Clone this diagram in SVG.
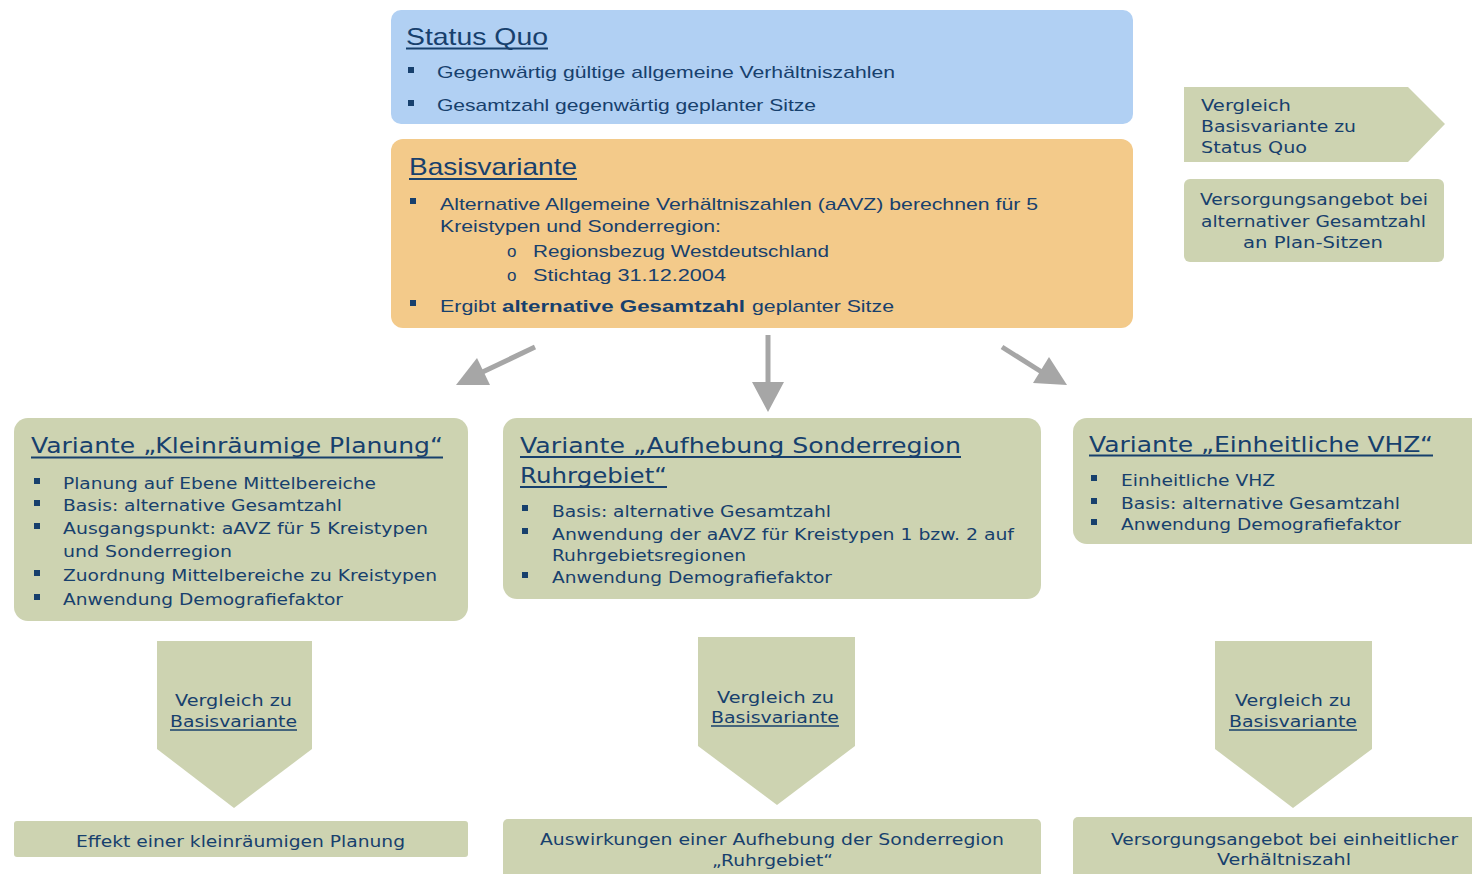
<svg xmlns="http://www.w3.org/2000/svg" width="1472" height="874" viewBox="0 0 1472 874">
<style>
text{font-family:"Liberation Sans",Arial,sans-serif;fill:#17406d;}
.t{font-size:24px;}
.b{font-size:17px;}
.bb{font-size:17px;font-weight:bold;}
.gt{font-family:"DejaVu Sans",Verdana,sans-serif;font-size:22px;}
.g{font-family:"DejaVu Sans",Verdana,sans-serif;font-size:16px;}
.blue{fill:#b1d0f3;}
.orange{fill:#f3ca8a;}
.green{fill:#cdd3b1;}
.ul{stroke:#17406d;stroke-width:2;}
.ul2{stroke:#17406d;stroke-width:1.5;}
.sq{fill:#17406d;}
.arr{fill:#a6a6a6;}
.shaft{stroke:#a6a6a6;stroke-width:5;}
</style>
<rect width="1472" height="874" fill="#ffffff"/>

<g id="status-quo">
<rect class="blue" x="391" y="10" width="742" height="114" rx="10"/>
<text class="t" x="406" y="45" textLength="142" lengthAdjust="spacingAndGlyphs">Status Quo</text>
<line class="ul" x1="406" y1="48.5" x2="548" y2="48.5"/>
<rect class="sq" x="408" y="67" width="6" height="6"/>
<text class="b" x="437" y="78" textLength="458" lengthAdjust="spacingAndGlyphs">Gegenwärtig gültige allgemeine Verhältniszahlen</text>
<rect class="sq" x="408" y="100" width="6" height="6"/>
<text class="b" x="437" y="111" textLength="379" lengthAdjust="spacingAndGlyphs">Gesamtzahl gegenwärtig geplanter Sitze</text>
</g>

<g id="basisvariante">
<rect class="orange" x="391" y="139" width="742" height="189" rx="12"/>
<text class="t" x="409" y="175" textLength="168" lengthAdjust="spacingAndGlyphs">Basisvariante</text>
<line class="ul" x1="409" y1="179" x2="577" y2="179"/>
<rect class="sq" x="410" y="198" width="6" height="6"/>
<text class="b" x="440" y="210" textLength="598" lengthAdjust="spacingAndGlyphs">Alternative Allgemeine Verhältniszahlen (aAVZ) berechnen für 5</text>
<text class="b" x="440" y="232" textLength="281" lengthAdjust="spacingAndGlyphs">Kreistypen und Sonderregion:</text>
<text class="b" x="507" y="257">o</text>
<text class="b" x="533" y="256.5" textLength="296" lengthAdjust="spacingAndGlyphs">Regionsbezug Westdeutschland</text>
<text class="b" x="507" y="281">o</text>
<text class="b" x="533" y="280.5" textLength="193" lengthAdjust="spacingAndGlyphs">Stichtag 31.12.2004</text>
<rect class="sq" x="410" y="300" width="6" height="6"/>
<text class="b" x="440" y="312" textLength="56" lengthAdjust="spacingAndGlyphs">Ergibt</text>
<text class="bb" x="502" y="312" textLength="243" lengthAdjust="spacingAndGlyphs">alternative Gesamtzahl</text>
<text class="b" x="752" y="312" textLength="142" lengthAdjust="spacingAndGlyphs">geplanter Sitze</text>
</g>

<g id="vergleich-status-quo">
<polygon class="green" points="1184,87 1408,87 1445,124 1408,162 1184,162"/>
<text class="g" x="1201" y="111" textLength="90" lengthAdjust="spacingAndGlyphs">Vergleich</text>
<text class="g" x="1201" y="132" textLength="155" lengthAdjust="spacingAndGlyphs">Basisvariante zu</text>
<text class="g" x="1201" y="153" textLength="106" lengthAdjust="spacingAndGlyphs">Status Quo</text>
</g>

<g id="versorgungsangebot-alternativ">
<rect class="green" x="1184" y="179" width="260" height="83" rx="6"/>
<text class="g" x="1200" y="205" textLength="228" lengthAdjust="spacingAndGlyphs">Versorgungsangebot bei</text>
<text class="g" x="1201" y="227" textLength="225" lengthAdjust="spacingAndGlyphs">alternativer Gesamtzahl</text>
<text class="g" x="1243" y="248" textLength="140" lengthAdjust="spacingAndGlyphs">an Plan-Sitzen</text>
</g>

<g id="connectors">
<line class="shaft" x1="535" y1="347" x2="472" y2="377"/>
<polygon class="arr" points="456,385 477,358 490,385"/>
<line class="shaft" x1="768" y1="335" x2="768" y2="384"/>
<polygon class="arr" points="752,382 784,382 768,412"/>
<line class="shaft" x1="1002" y1="347" x2="1048" y2="376"/>
<polygon class="arr" points="1049,357 1067,385 1033,383"/>
</g>

<g id="variante-kleinraeumig">
<rect class="green" x="14" y="418" width="454" height="203" rx="14"/>
<text class="gt" x="31" y="453" textLength="412" lengthAdjust="spacingAndGlyphs">Variante „Kleinräumige  Planung“</text>
<line class="ul" x1="31" y1="457.5" x2="443" y2="457.5"/>
<rect class="sq" x="34" y="478" width="6" height="6"/>
<text class="g" x="63" y="489" textLength="313" lengthAdjust="spacingAndGlyphs">Planung auf Ebene Mittelbereiche</text>
<rect class="sq" x="34" y="500" width="6" height="6"/>
<text class="g" x="63" y="511" textLength="279" lengthAdjust="spacingAndGlyphs">Basis: alternative Gesamtzahl</text>
<rect class="sq" x="34" y="523" width="6" height="6"/>
<text class="g" x="63" y="534" textLength="365" lengthAdjust="spacingAndGlyphs">Ausgangspunkt: aAVZ für 5 Kreistypen</text>
<text class="g" x="63" y="557" textLength="169" lengthAdjust="spacingAndGlyphs">und Sonderregion</text>
<rect class="sq" x="34" y="570" width="6" height="6"/>
<text class="g" x="63" y="581" textLength="374" lengthAdjust="spacingAndGlyphs">Zuordnung Mittelbereiche zu Kreistypen</text>
<rect class="sq" x="34" y="594" width="6" height="6"/>
<text class="g" x="63" y="605" textLength="280" lengthAdjust="spacingAndGlyphs">Anwendung Demografiefaktor</text>
</g>

<g id="variante-ruhrgebiet">
<rect class="green" x="503" y="418" width="538" height="181" rx="14"/>
<text class="gt" x="520" y="453" textLength="441" lengthAdjust="spacingAndGlyphs">Variante „Aufhebung Sonderregion</text>
<line class="ul" x1="520" y1="457" x2="961" y2="457"/>
<text class="gt" x="520" y="483" textLength="147" lengthAdjust="spacingAndGlyphs">Ruhrgebiet“</text>
<line class="ul" x1="520" y1="487" x2="667" y2="487"/>
<rect class="sq" x="522" y="505" width="6" height="6"/>
<text class="g" x="552" y="516.5" textLength="279" lengthAdjust="spacingAndGlyphs">Basis: alternative Gesamtzahl</text>
<rect class="sq" x="522" y="528" width="6" height="6"/>
<text class="g" x="552" y="539.5" textLength="462" lengthAdjust="spacingAndGlyphs">Anwendung der aAVZ für Kreistypen 1 bzw. 2 auf</text>
<text class="g" x="552" y="561" textLength="194" lengthAdjust="spacingAndGlyphs">Ruhrgebietsregionen</text>
<rect class="sq" x="522" y="572" width="6" height="6"/>
<text class="g" x="552" y="583" textLength="280" lengthAdjust="spacingAndGlyphs">Anwendung Demografiefaktor</text>
</g>

<g id="variante-einheitlich">
<rect class="green" x="1073" y="418" width="420" height="126" rx="14"/>
<text class="gt" x="1089" y="451.5" textLength="344" lengthAdjust="spacingAndGlyphs">Variante „Einheitliche  VHZ“</text>
<line class="ul" x1="1089" y1="455.5" x2="1433" y2="455.5"/>
<rect class="sq" x="1091" y="475" width="6" height="6"/>
<text class="g" x="1121" y="486" textLength="154" lengthAdjust="spacingAndGlyphs">Einheitliche VHZ</text>
<rect class="sq" x="1091" y="498" width="6" height="6"/>
<text class="g" x="1121" y="509" textLength="279" lengthAdjust="spacingAndGlyphs">Basis: alternative Gesamtzahl</text>
<rect class="sq" x="1091" y="519" width="6" height="6"/>
<text class="g" x="1121" y="530" textLength="280" lengthAdjust="spacingAndGlyphs">Anwendung Demografiefaktor</text>
</g>

<g id="vergleich-links">
<polygon class="green" points="157,641 312,641 312,749 234,808 157,749"/>
<text class="g" x="175" y="706" textLength="117" lengthAdjust="spacingAndGlyphs">Vergleich zu</text>
<text class="g" x="170" y="726.5" textLength="127" lengthAdjust="spacingAndGlyphs">Basisvariante</text>
<line class="ul2" x1="170" y1="730" x2="297" y2="730"/>
</g>

<g id="vergleich-mitte">
<polygon class="green" points="698,637 855,637 855,746 777,805 698,746"/>
<text class="g" x="717" y="702.5" textLength="117" lengthAdjust="spacingAndGlyphs">Vergleich zu</text>
<text class="g" x="711" y="722.5" textLength="128" lengthAdjust="spacingAndGlyphs">Basisvariante</text>
<line class="ul2" x1="711" y1="726" x2="839" y2="726"/>
</g>

<g id="vergleich-rechts">
<polygon class="green" points="1215,641 1372,641 1372,749 1293,808 1215,749"/>
<text class="g" x="1235" y="706" textLength="116" lengthAdjust="spacingAndGlyphs">Vergleich zu</text>
<text class="g" x="1229" y="726.5" textLength="128" lengthAdjust="spacingAndGlyphs">Basisvariante</text>
<line class="ul2" x1="1229" y1="730" x2="1357" y2="730"/>
</g>

<g id="effekt-kleinraeumig">
<rect class="green" x="14" y="821" width="454" height="36" rx="3"/>
<text class="g" x="76" y="847" textLength="329" lengthAdjust="spacingAndGlyphs">Effekt einer kleinräumigen Planung</text>
</g>

<g id="auswirkungen-ruhrgebiet">
<rect class="green" x="503" y="819" width="538" height="70" rx="5"/>
<text class="g" x="540" y="845" textLength="464" lengthAdjust="spacingAndGlyphs">Auswirkungen einer Aufhebung der Sonderregion</text>
<text class="g" x="712" y="866" textLength="121" lengthAdjust="spacingAndGlyphs">„Ruhrgebiet“</text>
</g>

<g id="versorgungsangebot-einheitlich">
<rect class="green" x="1073" y="817" width="420" height="70" rx="5"/>
<text class="g" x="1111" y="845" textLength="347" lengthAdjust="spacingAndGlyphs">Versorgungsangebot bei einheitlicher</text>
<text class="g" x="1217" y="865" textLength="134" lengthAdjust="spacingAndGlyphs">Verhältniszahl</text>
</g>
</svg>
